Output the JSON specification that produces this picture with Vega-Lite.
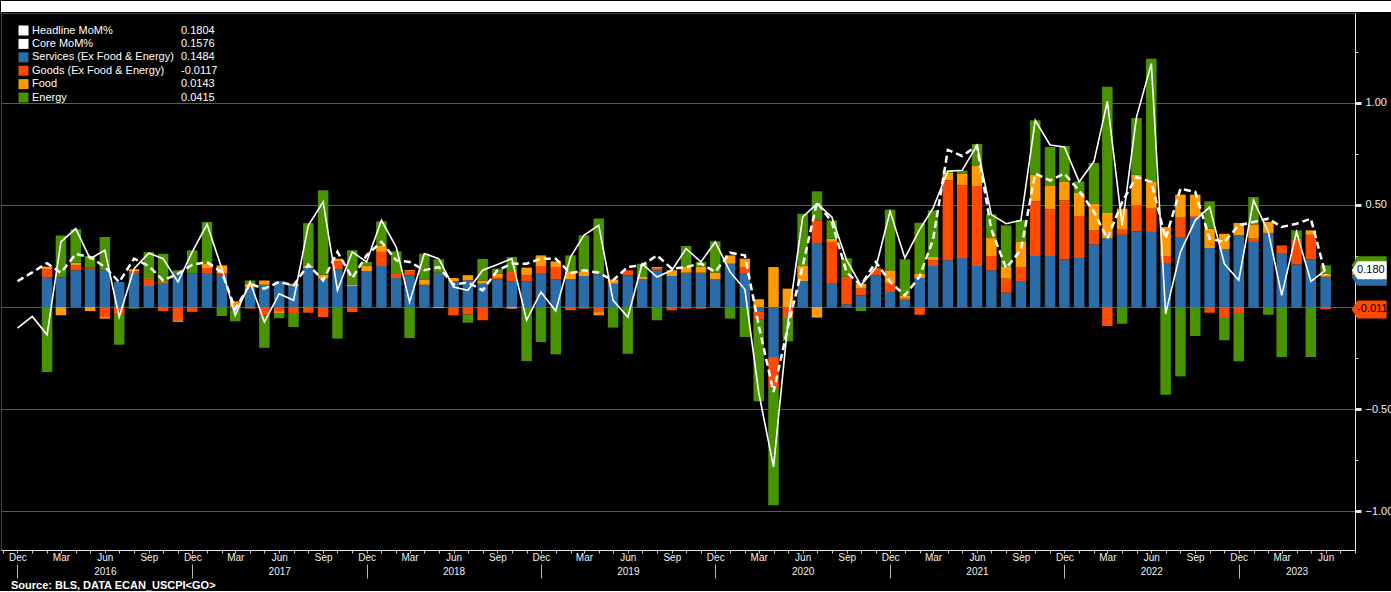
{
  "$schema": "https://vega.github.io/schema/vega-lite/v6.json",
  "background": "black",
  "padding": 0,
  "spacing": 0,
  "config": {
    "view": {"stroke": "#45453a"},
    "font": "Liberation Sans",
    "axis": {"labelFont": "Liberation Sans", "labelColor": "#f0f0f0"},
    "legend": {"labelFont": "Liberation Sans"}
  },
  "datasets": {
    "cpi": [
      {"date":"2015-12-01T00:00:00","headline":-0.103,"core":0.126},
      {"date":"2016-01-01T00:00:00","headline":-0.046,"core":0.17},
      {"date":"2016-02-01T00:00:00","headline":-0.136,"core":0.215,"services":0.144,"goods":0.041,"food":0.013,"energy":-0.319},
      {"date":"2016-03-01T00:00:00","headline":0.319,"core":0.167,"services":0.144,"goods":0,"food":-0.041,"energy":0.207},
      {"date":"2016-04-01T00:00:00","headline":0.384,"core":0.26,"services":0.18,"goods":0.024,"food":0.013,"energy":0.164},
      {"date":"2016-05-01T00:00:00","headline":0.237,"core":0.245,"services":0.188,"goods":0.005,"food":-0.02,"energy":0.057},
      {"date":"2016-06-01T00:00:00","headline":0.278,"core":0.196,"services":0.18,"goods":-0.049,"food":-0.008,"energy":0.163},
      {"date":"2016-07-01T00:00:00","headline":-0.049,"core":0.122,"services":0.123,"goods":-0.038,"food":0,"energy":-0.147},
      {"date":"2016-08-01T00:00:00","headline":0.188,"core":0.237,"services":0.167,"goods":0.008,"food":0.01,"energy":-0.008},
      {"date":"2016-09-01T00:00:00","headline":0.264,"core":0.201,"services":0.103,"goods":0.033,"food":0.005,"energy":0.128},
      {"date":"2016-10-01T00:00:00","headline":0.237,"core":0.13,"services":0.119,"goods":-0.02,"food":0.007,"energy":0.135},
      {"date":"2016-11-01T00:00:00","headline":0.123,"core":0.163,"services":0.167,"goods":-0.065,"food":-0.008,"energy":0.013},
      {"date":"2016-12-01T00:00:00","headline":0.27,"core":0.207,"services":0.163,"goods":-0.02,"food":-0.003,"energy":0.115},
      {"date":"2017-01-01T00:00:00","headline":0.405,"core":0.22,"services":0.163,"goods":0.028,"food":0.021,"energy":0.205},
      {"date":"2017-02-01T00:00:00","headline":0.188,"core":0.17,"services":0.158,"goods":0.008,"food":0.038,"energy":-0.044},
      {"date":"2017-03-01T00:00:00","headline":-0.041,"core":-0.01,"services":-0.016,"goods":0,"food":0.028,"energy":-0.054},
      {"date":"2017-04-01T00:00:00","headline":0.123,"core":0.113,"services":0.098,"goods":-0.008,"food":0.016,"energy":0.016},
      {"date":"2017-05-01T00:00:00","headline":-0.074,"core":0.09,"services":0.109,"goods":-0.041,"food":0.021,"energy":-0.159},
      {"date":"2017-06-01T00:00:00","headline":0.065,"core":0.123,"services":0.126,"goods":-0.02,"food":-0.01,"energy":-0.025},
      {"date":"2017-07-01T00:00:00","headline":0.033,"core":0.106,"services":0.103,"goods":-0.029,"food":0.011,"energy":-0.069},
      {"date":"2017-08-01T00:00:00","headline":0.4,"core":0.207,"services":0.191,"goods":-0.028,"food":0.01,"energy":0.21},
      {"date":"2017-09-01T00:00:00","headline":0.515,"core":0.131,"services":0.139,"goods":-0.049,"food":0.02,"energy":0.413},
      {"date":"2017-10-01T00:00:00","headline":0.082,"core":0.27,"services":0.185,"goods":0.039,"food":0.013,"energy":-0.155},
      {"date":"2017-11-01T00:00:00","headline":0.27,"core":0.142,"services":0.103,"goods":-0.025,"food":0.008,"energy":0.167},
      {"date":"2017-12-01T00:00:00","headline":0.221,"core":0.253,"services":0.175,"goods":0,"food":0.026,"energy":0.02},
      {"date":"2018-01-01T00:00:00","headline":0.425,"core":0.319,"services":0.201,"goods":0.069,"food":0.029,"energy":0.121},
      {"date":"2018-02-01T00:00:00","headline":0.294,"core":0.229,"services":0.142,"goods":0.02,"food":0,"energy":0.111},
      {"date":"2018-03-01T00:00:00","headline":0.025,"core":0.221,"services":0.155,"goods":0.02,"food":0.006,"energy":-0.152},
      {"date":"2018-04-01T00:00:00","headline":0.262,"core":0.18,"services":0.109,"goods":0,"food":0.026,"energy":0.126},
      {"date":"2018-05-01T00:00:00","headline":0.237,"core":0.196,"services":0.168,"goods":0,"food":-0.005,"energy":0.066},
      {"date":"2018-06-01T00:00:00","headline":0.098,"core":0.11,"services":0.126,"goods":-0.041,"food":0.016,"energy":0},
      {"date":"2018-07-01T00:00:00","headline":0.082,"core":0.12,"services":0.131,"goods":-0.037,"food":0.025,"energy":-0.04},
      {"date":"2018-08-01T00:00:00","headline":0.18,"core":0.082,"services":0.114,"goods":-0.065,"food":0.016,"energy":0.106},
      {"date":"2018-09-01T00:00:00","headline":0.208,"core":0.18,"services":0.136,"goods":0.007,"food":0.02,"energy":0.025},
      {"date":"2018-10-01T00:00:00","headline":0.237,"core":0.212,"services":0.126,"goods":0.046,"food":-0.008,"energy":0.073},
      {"date":"2018-11-01T00:00:00","headline":-0.065,"core":0.212,"services":0.126,"goods":0.03,"food":0.037,"energy":-0.265},
      {"date":"2018-12-01T00:00:00","headline":0.074,"core":0.237,"services":0.163,"goods":0.038,"food":0.052,"energy":-0.172},
      {"date":"2019-01-01T00:00:00","headline":-0.02,"core":0.237,"services":0.136,"goods":0.057,"food":0.031,"energy":-0.232},
      {"date":"2019-02-01T00:00:00","headline":0.245,"core":0.165,"services":0.136,"goods":-0.016,"food":0.04,"energy":0.077},
      {"date":"2019-03-01T00:00:00","headline":0.351,"core":0.18,"services":0.152,"goods":-0.008,"food":0.023,"energy":0.176},
      {"date":"2019-04-01T00:00:00","headline":0.4,"core":0.168,"services":0.16,"goods":-0.025,"food":-0.016,"energy":0.274},
      {"date":"2019-05-01T00:00:00","headline":0.033,"core":0.131,"services":0.114,"goods":0,"food":0.021,"energy":-0.101},
      {"date":"2019-06-01T00:00:00","headline":-0.049,"core":0.196,"services":0.155,"goods":0.025,"food":0,"energy":-0.229},
      {"date":"2019-07-01T00:00:00","headline":0.212,"core":0.204,"services":0.136,"goods":0,"food":0.011,"energy":0.065},
      {"date":"2019-08-01T00:00:00","headline":0.147,"core":0.253,"services":0.18,"goods":0.011,"food":0.005,"energy":-0.065},
      {"date":"2019-09-01T00:00:00","headline":0.18,"core":0.188,"services":0.152,"goods":-0.016,"food":0.028,"energy":0},
      {"date":"2019-10-01T00:00:00","headline":0.286,"core":0.196,"services":0.168,"goods":-0.008,"food":0.028,"energy":0.103},
      {"date":"2019-11-01T00:00:00","headline":0.221,"core":0.213,"services":0.168,"goods":-0.008,"food":0.028,"energy":0.025},
      {"date":"2019-12-01T00:00:00","headline":0.319,"core":0.172,"services":0.136,"goods":0,"food":0.033,"energy":0.153},
      {"date":"2020-01-01T00:00:00","headline":0.172,"core":0.266,"services":0.212,"goods":0,"food":0.041,"energy":-0.057},
      {"date":"2020-02-01T00:00:00","headline":0.087,"core":0.253,"services":0.163,"goods":0.033,"food":0.041,"energy":-0.147},
      {"date":"2020-03-01T00:00:00","headline":-0.42,"core":-0.09,"services":-0.021,"goods":-0.039,"food":0.038,"energy":-0.402},
      {"date":"2020-04-01T00:00:00","headline":-0.784,"core":-0.417,"services":-0.245,"goods":-0.147,"food":0.196,"energy":-0.58},
      {"date":"2020-05-01T00:00:00","headline":-0.08,"core":-0.1,"services":0,"goods":-0.054,"food":0.09,"energy":-0.114},
      {"date":"2020-06-01T00:00:00","headline":0.441,"core":0.2,"services":0.127,"goods":0,"food":0.077,"energy":0.253},
      {"date":"2020-07-01T00:00:00","headline":0.507,"core":0.514,"services":0.314,"goods":0.111,"food":-0.052,"energy":0.142},
      {"date":"2020-08-01T00:00:00","headline":0.441,"core":0.417,"services":0.114,"goods":0.205,"food":0.016,"energy":0.09},
      {"date":"2020-09-01T00:00:00","headline":0.23,"core":0.17,"services":0.013,"goods":0.131,"food":0.005,"energy":0.09},
      {"date":"2020-10-01T00:00:00","headline":0.106,"core":0.106,"services":0.057,"goods":0.033,"food":0.024,"energy":-0.02},
      {"date":"2020-11-01T00:00:00","headline":0.192,"core":0.221,"services":0.155,"goods":0.033,"food":0.004,"energy":0},
      {"date":"2020-12-01T00:00:00","headline":0.469,"core":0.123,"services":0.074,"goods":0.044,"food":0.062,"energy":0.297},
      {"date":"2021-01-01T00:00:00","headline":0.24,"core":0.057,"services":0.033,"goods":0.008,"food":0.016,"energy":0.177},
      {"date":"2021-02-01T00:00:00","headline":0.38,"core":0.15,"services":0.142,"goods":-0.038,"food":0.02,"energy":0.251},
      {"date":"2021-03-01T00:00:00","headline":0.485,"core":0.33,"services":0.201,"goods":0.028,"food":0.016,"energy":0.229},
      {"date":"2021-04-01T00:00:00","headline":0.665,"core":0.77,"services":0.229,"goods":0.392,"food":0.037,"energy":0.011},
      {"date":"2021-05-01T00:00:00","headline":0.67,"core":0.74,"services":0.24,"goods":0.356,"food":0.057,"energy":0.016},
      {"date":"2021-06-01T00:00:00","headline":0.792,"core":0.79,"services":0.201,"goods":0.392,"food":0.101,"energy":0.105},
      {"date":"2021-07-01T00:00:00","headline":0.453,"core":0.38,"services":0.18,"goods":0.07,"food":0.088,"energy":0.116},
      {"date":"2021-08-01T00:00:00","headline":0.408,"core":0.19,"services":0.07,"goods":0.069,"food":0.057,"energy":0.204},
      {"date":"2021-09-01T00:00:00","headline":0.425,"core":0.28,"services":0.127,"goods":0.069,"food":0.123,"energy":0.106},
      {"date":"2021-10-01T00:00:00","headline":0.915,"core":0.654,"services":0.25,"goods":0.268,"food":0.131,"energy":0.266},
      {"date":"2021-11-01T00:00:00","headline":0.794,"core":0.62,"services":0.25,"goods":0.229,"food":0.114,"energy":0.191},
      {"date":"2021-12-01T00:00:00","headline":0.784,"core":0.654,"services":0.234,"goods":0.289,"food":0.09,"energy":0.176},
      {"date":"2022-01-01T00:00:00","headline":0.613,"core":0.57,"services":0.24,"goods":0.206,"food":0.113,"energy":0.057},
      {"date":"2022-02-01T00:00:00","headline":0.714,"core":0.466,"services":0.307,"goods":0.069,"food":0.13,"energy":0.2},
      {"date":"2022-03-01T00:00:00","headline":1.008,"core":0.335,"services":0.338,"goods":-0.093,"food":0.123,"energy":0.619},
      {"date":"2022-04-01T00:00:00","headline":0.4,"core":0.515,"services":0.354,"goods":0.025,"food":0.103,"energy":-0.082},
      {"date":"2022-05-01T00:00:00","headline":0.931,"core":0.637,"services":0.371,"goods":0.127,"food":0.151,"energy":0.277},
      {"date":"2022-06-01T00:00:00","headline":1.193,"core":0.613,"services":0.368,"goods":0.114,"food":0.134,"energy":0.601},
      {"date":"2022-07-01T00:00:00","headline":-0.033,"core":0.335,"services":0.216,"goods":0.034,"food":0.142,"energy":-0.43},
      {"date":"2022-08-01T00:00:00","headline":0.27,"core":0.58,"services":0.343,"goods":0.095,"food":0.113,"energy":-0.34},
      {"date":"2022-09-01T00:00:00","headline":0.425,"core":0.564,"services":0.436,"goods":0.01,"food":0.105,"energy":-0.142},
      {"date":"2022-10-01T00:00:00","headline":0.49,"core":0.335,"services":0.289,"goods":-0.028,"food":0.095,"energy":0.134},
      {"date":"2022-11-01T00:00:00","headline":0.212,"core":0.319,"services":0.283,"goods":-0.049,"food":0.076,"energy":-0.114},
      {"date":"2022-12-01T00:00:00","headline":0.131,"core":0.4,"services":0.351,"goods":-0.029,"food":0.061,"energy":-0.237},
      {"date":"2023-01-01T00:00:00","headline":0.523,"core":0.417,"services":0.319,"goods":0.016,"food":0.07,"energy":0.134},
      {"date":"2023-02-01T00:00:00","headline":0.368,"core":0.433,"services":0.363,"goods":0,"food":0.054,"energy":-0.038},
      {"date":"2023-03-01T00:00:00","headline":0.057,"core":0.392,"services":0.261,"goods":0.041,"food":0,"energy":-0.245},
      {"date":"2023-04-01T00:00:00","headline":0.368,"core":0.408,"services":0.209,"goods":0.126,"food":0,"energy":0.041},
      {"date":"2023-05-01T00:00:00","headline":0.126,"core":0.433,"services":0.234,"goods":0.12,"food":0.022,"energy":-0.245},
      {"date":"2023-06-01T00:00:00","headline":0.1804,"core":0.1576,"services":0.1484,"goods":-0.0117,"food":0.0143,"energy":0.0415}
    ],
    "tags": [
      {"key":"energy","pos":0.2042,"txt":""},
      {"key":"food","pos":0.1627,"txt":""},
      {"key":"services","pos":0.1484,"txt":""},
      {"key":"headline","pos":0.1804,"txt":"0.1804"},
      {"key":"goods","pos":-0.0117,"txt":"-0.0117"}
    ],
    "latest": [
      {"lv":"0.1804"},
      {"lv":"0.1576"},
      {"lv":"0.1484"},
      {"lv":"-0.0117"},
      {"lv":"0.0143"},
      {"lv":"0.0415"}
    ]
  },
  "vconcat": [
    {
      "width": 1391,
      "height": 11,
      "view": {"fill": "white", "stroke": null},
      "data": {"values": [{}]},
      "mark": {"type": "text", "text": ""}
    },
    {
      "width": 1354,
      "height": 537,
      "title": {"text": "Source: BLS, DATA ECAN_USCPI<GO>", "orient": "bottom", "anchor": "start", "color": "white", "fontSize": 11, "fontWeight": "bold", "font": "Liberation Sans", "offset": 1, "dx": 10},
      "resolve": {"axis": {"x": "independent", "y": "independent"}},
      "layer": [
        {
          "data": {"name": "cpi"},
          "transform": [
            {"fold": ["services", "goods", "food", "energy"], "as": ["key", "value"]},
            {"filter": "isValid(datum.value)"}
          ],
          "mark": {"type": "bar", "size": 10.5},
          "encoding": {
            "x": {
              "field": "date", "type": "temporal",
              "scale": {"domain": [{"year": 2015, "month": 11, "date": 7}, {"year": 2023, "month": 7, "date": 22}]},
              "axis": {"orient": "bottom", "title": null, "grid": false, "tickCount": {"interval": "month", "step": 1}, "labelExpr": "month(datum.value) % 3 == 2 ? timeFormat(datum.value, '%b') : ''", "labelOverlap": false, "labelFlush": 13, "ticks": true, "tickSize": 3, "tickColor": "#d0d0d0", "domainColor": "#e8e8e8", "labelFontSize": 10, "labelPadding": -1, "labelColor": "#f0f0f0"}
            },
            "y": {
              "field": "value", "type": "quantitative", "stack": "zero",
              "scale": {"domain": [-1.191, 1.441], "nice": false, "zero": false},
              "axis": {"orient": "right", "title": null, "grid": false, "values": [-1, -0.75, -0.5, -0.25, 0, 0.25, 0.5, 0.75, 1, 1.25], "labelExpr": "datum.value % 0.5 == 0 && datum.value != 0 ? format(datum.value, '.2f') : ''", "labelOverlap": false, "tickSize": 3, "tickColor": "#e0e0e0", "domainColor": "#e8e8e8", "labelPadding": 7, "labelFontSize": 11, "labelColor": "#f0f0f0"}
            },
            "color": {
              "field": "key", "type": "nominal",
              "scale": {"domain": ["headline", "core", "services", "goods", "food", "energy"], "range": ["#ffffff", "#ffffff", "#2b6da8", "#ff4a00", "#ff9a00", "#4a9300"]},
              "legend": {"orient": "none", "legendX": 17, "legendY": 24, "title": null, "symbolType": "square", "symbolSize": 100, "symbolStrokeWidth": 0, "labelColor": "#ffffff", "labelFontSize": 11, "rowPadding": 1.4, "padding": 0, "labelOffset": 3, "labelLimit": 300,
                "labelExpr": "datum.label == 'headline' ? 'Headline MoM%' : datum.label == 'core' ? 'Core MoM%' : datum.label == 'services' ? 'Services (Ex Food & Energy)' : datum.label == 'goods' ? 'Goods (Ex Food & Energy)' : datum.label == 'food' ? 'Food' : 'Energy'"}
            }
          }
        },
        {
          "data": {"name": "cpi"},
          "mark": {"type": "line", "color": "white", "strokeWidth": 1.6},
          "encoding": {
            "x": {
              "field": "date", "type": "temporal",
              "axis": {"orient": "bottom", "title": null, "grid": false, "values": [{"year": 2016, "month": 6, "date": 1}, {"year": 2017, "month": 6, "date": 1}, {"year": 2018, "month": 6, "date": 1}, {"year": 2019, "month": 6, "date": 1}, {"year": 2020, "month": 6, "date": 1}, {"year": 2021, "month": 6, "date": 1}, {"year": 2022, "month": 6, "date": 1}, {"year": 2023, "month": 4, "date": 1}], "format": "%Y", "ticks": false, "tickSize": 0, "domain": false, "labelPadding": 16, "labelFontSize": 10, "labelColor": "#f0f0f0", "labelOverlap": false, "labelFlush": false}
            },
            "y": {
              "field": "headline", "type": "quantitative",
              "axis": {"orient": "right", "title": null, "values": [-1, -0.5, 0, 0.5, 1], "labels": false, "grid": true, "gridColor": "#5c5c50", "gridWidth": 1, "ticks": true, "tickSize": 6, "tickWidth": 3, "tickColor": "#e8e8e8", "domain": false}
            }
          }
        },
        {
          "data": {"name": "cpi"},
          "mark": {"type": "line", "color": "white", "strokeWidth": 2.5, "strokeDash": [7, 4]},
          "encoding": {
            "x": {
              "field": "date", "type": "temporal",
              "axis": {"orient": "bottom", "title": null, "grid": false, "values": [{"year": 2015, "month": 12, "date": 1}, {"year": 2016, "month": 12, "date": 1}, {"year": 2017, "month": 12, "date": 1}, {"year": 2018, "month": 12, "date": 1}, {"year": 2019, "month": 12, "date": 1}, {"year": 2020, "month": 12, "date": 1}, {"year": 2021, "month": 12, "date": 1}, {"year": 2022, "month": 12, "date": 1}], "labels": false, "ticks": true, "tickSize": 14, "tickColor": "#b8b8b8", "domain": false, "offset": 14}
            },
            "y": {"field": "core", "type": "quantitative", "axis": null}
          }
        },
        {
          "data": {"name": "tags"},
          "mark": {"type": "point", "shape": "M-1,0L-0.66,-0.514L1,-0.514L1,0.514L-0.66,0.514Z", "size": 1225, "filled": true, "opacity": 1, "clip": false},
          "encoding": {
            "x": {"datum": {"year": 2023, "month": 8, "date": 31}, "type": "temporal", "axis": null},
            "y": {"field": "pos", "type": "quantitative", "axis": null},
            "color": {"field": "key", "type": "nominal"}
          }
        },
        {
          "data": {"name": "tags"},
          "transform": [{"filter": "datum.txt != ''"}],
          "mark": {"type": "text", "align": "left", "baseline": "middle", "dx": -12, "fontSize": 11, "font": "Liberation Sans", "color": "black", "limit": 31.5, "ellipsis": "\u200b", "clip": false},
          "encoding": {
            "x": {"datum": {"year": 2023, "month": 8, "date": 31}, "type": "temporal", "axis": null},
            "y": {"field": "pos", "type": "quantitative", "axis": null},
            "text": {"field": "txt"}
          }
        },
        {
          "data": {"name": "latest"},
          "mark": {"type": "point", "opacity": 0},
          "encoding": {
            "x": {"datum": {"year": 2023, "month": 6, "date": 1}, "type": "temporal", "axis": null},
            "y": {"datum": 0, "type": "quantitative", "axis": null},
            "shape": {
              "field": "lv", "type": "nominal",
              "scale": {"domain": ["0.1804", "0.1576", "0.1484", "-0.0117", "0.0143", "0.0415"], "range": ["circle", "square", "cross", "diamond", "triangle-up", "triangle-down"]},
              "legend": {"orient": "none", "legendX": 166, "legendY": 24, "title": null, "symbolSize": 100, "symbolOpacity": 0, "symbolStrokeWidth": 0, "labelColor": "#ffffff", "labelFontSize": 11, "rowPadding": 1.4, "padding": 0, "labelOffset": 3}
            }
          }
        }
      ]
    }
  ]
}
